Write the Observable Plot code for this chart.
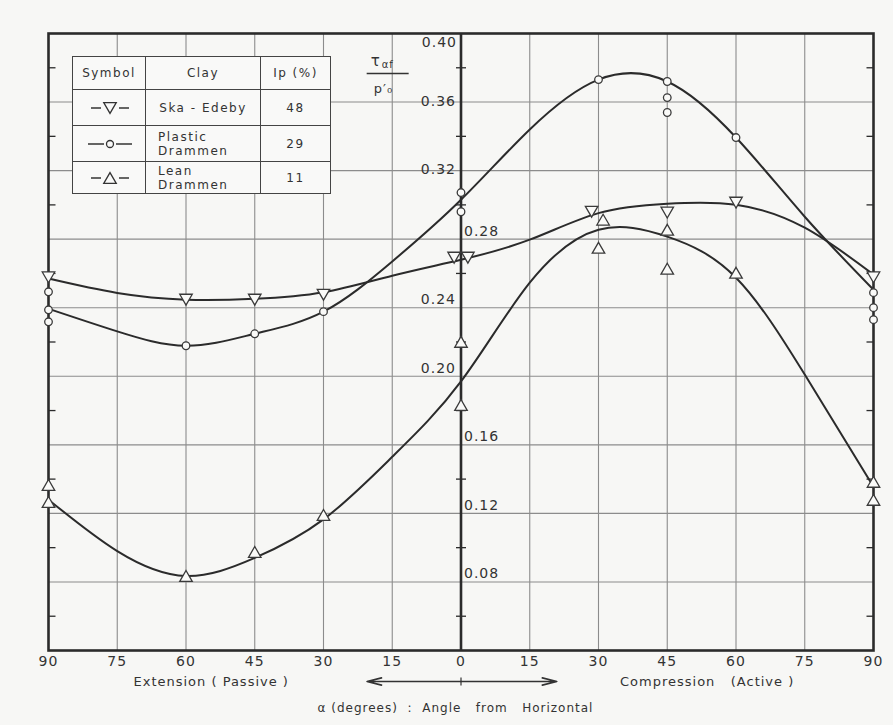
<!DOCTYPE html>
<html>
<head>
<meta charset="utf-8">
<script src="https://cdn.jsdelivr.net/npm/d3@7"></script>
<script src="https://cdn.jsdelivr.net/npm/@observablehq/plot@0.6"></script>
<style>
  html, body { margin: 0; padding: 0; background: #f7f7f5; }
  #wrap { position: relative; width: 893px; height: 725px; font-family: "DejaVu Sans", sans-serif; color: #2e2e2e; }
  #wrap svg text { letter-spacing: 1px; white-space: pre; }
  #legend { position: absolute; left: 72px; top: 56px; border-collapse: collapse; font-size: 12px; letter-spacing: 1.5px; color: #333; background: #f9f9f8; }
  #legend td { border: 1.6px solid #444; padding: 0; font-weight: normal; vertical-align: middle; }
  #legend td.c { text-align: center; }
  #legend td.l { text-align: left; padding-left: 12px; line-height: 14px; }
  #legend svg { display: block; margin: 0 auto; }
</style>
</head>
<body>
<div id="wrap"></div>
<script>
// ---------- data ----------
const angleTicks = [-90, -75, -60, -45, -30, -15, 0, 15, 30, 45, 60, 75, 90];
const ratioGrid = [0.08, 0.12, 0.16, 0.20, 0.24, 0.28, 0.32, 0.36];
const ratioMinor = [0.06, 0.10, 0.14, 0.18, 0.22, 0.26, 0.30, 0.34, 0.38];
const ratioLabelsLeftMid = [0.36, 0.32];
const ratioLabelsLeftHigh = [0.24, 0.20];
const ratioLabelsRightHigh = [0.28, 0.16, 0.12, 0.08];
const ratioLabelsTop = [0.40];

// fitted curves, sampled every 15 degrees
const curveAngles = [-90, -75, -60, -45, -30, -15, 0, 15, 30, 45, 60, 75, 90];
const skaCurve     = [0.2570, 0.2486, 0.2447, 0.2452, 0.2490, 0.2587, 0.2680, 0.2797, 0.2952, 0.3007, 0.3001, 0.2867, 0.2593];
const plasticCurve = [0.2394, 0.2262, 0.2178, 0.2248, 0.2377, 0.2670, 0.3030, 0.3440, 0.3731, 0.3720, 0.3393, 0.2931, 0.2505];
const leanCurve    = [0.1280, 0.0980, 0.0835, 0.0940, 0.1165, 0.1530, 0.1970, 0.2546, 0.2855, 0.2815, 0.2575, 0.2010, 0.1355];

// measured points
const skaPtX = [-90, -60, -45, -30, -1.5, 1.5, 28.5, 45, 60, 90];
const skaPtY = [0.2577, 0.2447, 0.2447, 0.2476, 0.2692, 0.2692, 0.2960, 0.2955, 0.3013, 0.2577];
const plasticPtX = [-90, -90, -90, -60, -45, -30, 0, 0, 30, 45, 45, 45, 60, 90, 90, 90];
const plasticPtY = [0.2493, 0.2388, 0.2318, 0.2178, 0.2248, 0.2377, 0.3072, 0.2960, 0.3731, 0.3720, 0.3626, 0.3539, 0.3393, 0.2488, 0.2400, 0.2330];
const leanPtX = [-90, -90, -60, -45, -30, 0, 0, 31, 30, 45, 45, 60, 90, 90];
const leanPtY = [0.1366, 0.1267, 0.0835, 0.0975, 0.1191, 0.2201, 0.1833, 0.2914, 0.2750, 0.2855, 0.2628, 0.2604, 0.1384, 0.1279];

// legend table
const legendHeader = ["Symbol", "Clay", "Ip (%)"];
const clayNames = ["Ska - Edeby", "Plastic\nDrammen", "Lean\nDrammen"];
const plasticityIndex = ["48", "29", "11"];
const claySymbols = ["down", "circle", "up"];

// ---------- build ----------
const zip = (xs, ys) => xs.map((x, i) => ({x, y: ys[i]}));
const skaLine = zip(curveAngles, skaCurve);
const plasticLine = zip(curveAngles, plasticCurve);
const leanLine = zip(curveAngles, leanCurve);
const skaPts = zip(skaPtX, skaPtY);
const plasticPts = zip(plasticPtX, plasticPtY);
const leanPts = zip(leanPtX, leanPtY);

const tri = (dir) => ({
  draw(ctx) {
    const s = 12.5, h = s * Math.sqrt(3) / 2;
    ctx.moveTo(0, -dir * h / 2);
    ctx.lineTo(s / 2, dir * h / 2);
    ctx.lineTo(-s / 2, dir * h / 2);
    ctx.closePath();
  }
});
const triUp = tri(1), triDown = tri(-1);
const hSeg = (a, b) => ({ draw(ctx) { ctx.moveTo(a, 0); ctx.lineTo(b, 0); } });
const vSeg = (a, b) => ({ draw(ctx) { ctx.moveTo(0, a); ctx.lineTo(0, b); } });

const ink = "#2b2b2b";
const gridColor = "#8c8c8c";
const markStyle = {stroke: "#3a3a3a", strokeWidth: 1.3, fill: "#fafaf8"};
const fmt = d => d.toFixed(2);

const chart = Plot.plot({
  width: 893,
  height: 725,
  marginLeft: 48,
  marginRight: 20,
  marginTop: 33,
  marginBottom: 75,
  x: {domain: [-90, 90], axis: null},
  y: {domain: [0.04, 0.40], axis: null},
  style: {background: "transparent", color: ink, fontFamily: "DejaVu Sans, sans-serif", fontSize: "13px", overflow: "visible"},
  marks: [
    Plot.ruleX(angleTicks.filter(d => Math.abs(d) < 90 && d !== 0), {x: d => d, stroke: gridColor, strokeWidth: 1.1}),
    Plot.ruleY(ratioGrid, {y: d => d, stroke: gridColor, strokeWidth: 1.1}),
    // minor ticks
    Plot.dot(ratioMinor, {y: d => d, frameAnchor: "left", symbol: hSeg(0, 7), stroke: ink, strokeWidth: 1.3, fill: "none"}),
    Plot.dot(ratioMinor, {y: d => d, frameAnchor: "right", symbol: hSeg(-7, 0), stroke: ink, strokeWidth: 1.3, fill: "none"}),
    Plot.dot(ratioMinor, {x: () => 0, y: d => d, symbol: hSeg(-5, 5), stroke: ink, strokeWidth: 1.3, fill: "none"}),
    // zero axis & frame
    Plot.ruleX([0], {x: d => d, stroke: ink, strokeWidth: 2.6}),
    Plot.frame({stroke: ink, strokeWidth: 2.6}),
    // fitted curves
    Plot.line(skaLine, {x: "x", y: "y", curve: "natural", stroke: ink, strokeWidth: 2}),
    Plot.line(plasticLine, {x: "x", y: "y", curve: "natural", stroke: ink, strokeWidth: 2}),
    Plot.line(leanLine, {x: "x", y: "y", curve: "natural", stroke: ink, strokeWidth: 2}),
    // points
    Plot.dot(skaPts, {x: "x", y: "y", symbol: triDown, r: 5, ...markStyle}),
    Plot.dot(plasticPts, {x: "x", y: "y", symbol: "circle", r: 3.8, ...markStyle}),
    Plot.dot(leanPts, {x: "x", y: "y", symbol: triUp, r: 5, ...markStyle}),
    // y tick labels
    Plot.text(ratioLabelsLeftMid, {x: () => 0, y: d => d, text: fmt, textAnchor: "end", dx: -5, dy: -1, fontSize: 14, fill: "#333"}),
    Plot.text(ratioLabelsLeftHigh, {x: () => 0, y: d => d, text: fmt, textAnchor: "end", dx: -5, dy: -8, fontSize: 14, fill: "#333"}),
    Plot.text(ratioLabelsTop, {x: () => 0, y: d => d, text: fmt, textAnchor: "end", dx: -4, dy: 9, fontSize: 14, fill: "#333"}),
    Plot.text(ratioLabelsRightHigh, {x: () => 0, y: d => d, text: fmt, textAnchor: "start", dx: 3, dy: -8, fontSize: 14, fill: "#333"}),
    // y axis title (fraction)
    Plot.text(["τ"], {x: () => -18.6, frameAnchor: "top", lineAnchor: "middle", dy: 28, text: d => d, fontSize: 15, fill: "#333"}),
    Plot.text(["αf"], {x: () => -17.3, frameAnchor: "top", lineAnchor: "middle", dy: 31, text: d => d, textAnchor: "start", fontSize: 10, fill: "#333"}),
    Plot.dot([0], {x: () => -16.0, frameAnchor: "top", dy: 40, symbol: hSeg(-21, 21), stroke: "#333", strokeWidth: 1.3, fill: "none"}),
    Plot.text(["p′₀"], {x: () => -16.9, frameAnchor: "top", lineAnchor: "middle", dy: 55, text: d => d, fontSize: 13, fill: "#333"}),
    // x tick labels
    Plot.text(angleTicks, {x: d => d, text: d => String(Math.abs(d)), frameAnchor: "bottom", lineAnchor: "middle", dy: 11, dx: 0, fontSize: 14, fill: "#333"}),
    // x axis captions
    Plot.text(["Extension ( Passive )"], {x: () => -54.5, frameAnchor: "bottom", lineAnchor: "middle", dy: 31, text: d => d, fontSize: 13, fill: "#333"}),
    Plot.text(["Compression   (Active )"], {x: () => 53.7, frameAnchor: "bottom", lineAnchor: "middle", dy: 31, text: d => d, fontSize: 13, fill: "#333"}),
    Plot.arrow([-20.5, 20.9], {x1: () => 0, y1: () => 0.04, x2: d => d, y2: () => 0.04, dy: 31, headLength: 14, headAngle: 28, strokeWidth: 1.6, stroke: "#333"}),
    Plot.dot([0], {x: d => d, frameAnchor: "bottom", dy: 31, symbol: vSeg(-4, 4), stroke: "#333", strokeWidth: 1.2, fill: "none"}),
    Plot.text(["α (degrees)  :  Angle   from   Horizontal"], {x: () => -1.2, frameAnchor: "bottom", lineAnchor: "middle", dy: 58, text: d => d, fontSize: 12, fill: "#333"})
  ]
});

const wrap = document.getElementById("wrap");
wrap.appendChild(chart);

// legend table overlay
const colW = [72, 114, 69];
const rowH = [33, 36, 36, 32];
const table = d3.select(wrap).append("table").attr("id", "legend");
const head = table.append("tr").style("height", rowH[0] + "px");
legendHeader.forEach((t, i) => head.append("td").attr("class", "c").style("width", colW[i] + "px").text(t));

function symbolSvg(cell, kind) {
  const w = 60, h = 16, cx = 31, cy = 8;
  const svg = cell.append("svg").attr("width", w).attr("height", h);
  const gap = kind === "circle" ? 6 : 9;
  const len = kind === "circle" ? 16 : 10;
  svg.append("line").attr("x1", cx - gap - len).attr("x2", cx - gap).attr("y1", cy).attr("y2", cy).attr("stroke", "#333").attr("stroke-width", 1.5);
  svg.append("line").attr("x1", cx + gap).attr("x2", cx + gap + len).attr("y1", cy).attr("y2", cy).attr("stroke", "#333").attr("stroke-width", 1.5);
  const p = d3.path();
  if (kind === "circle") {
    svg.append("circle").attr("cx", cx).attr("cy", cy).attr("r", 3.5).attr("fill", "none").attr("stroke", "#333").attr("stroke-width", 1.3);
  } else {
    (kind === "up" ? triUp : triDown).draw(p);
    svg.append("path").attr("d", p.toString()).attr("transform", `translate(${cx},${cy})`).attr("fill", "none").attr("stroke", "#333").attr("stroke-width", 1.3);
  }
}

clayNames.forEach((name, i) => {
  const tr = table.append("tr").style("height", rowH[i + 1] + "px");
  symbolSvg(tr.append("td").attr("class", "c"), claySymbols[i]);
  const lines = name.split("\n");
  const td = tr.append("td").attr("class", lines.length > 1 ? "l" : "c");
  lines.forEach((ln, j) => { if (j) td.append("br"); td.append("span").text(ln); });
  tr.append("td").attr("class", "c").text(plasticityIndex[i]);
});
</script>
</body>
</html>
